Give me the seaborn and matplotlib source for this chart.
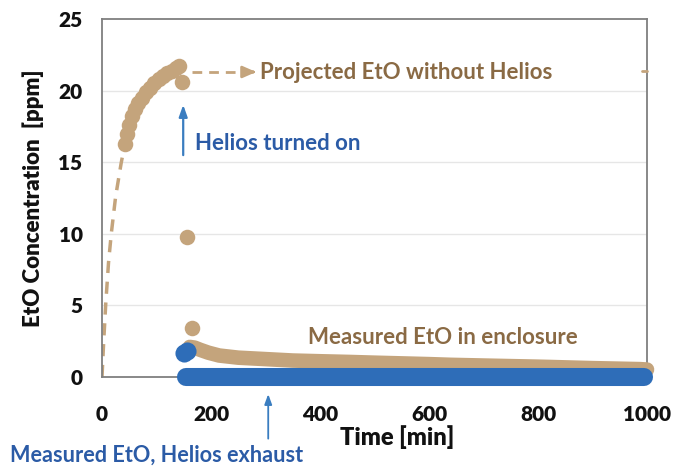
import matplotlib
matplotlib.use("Agg")
import matplotlib.pyplot as plt
import seaborn as sns
import pandas as pd

# ---- data ----
proj_rise_t = [0, 3, 7, 12, 17, 25, 35, 42]
proj_rise_v = [0, 2.4, 5.2, 8.0, 10.0, 12.6, 14.9, 16.3]

before_t = [42, 46, 50, 55, 60, 66, 73, 80, 88, 96, 104, 112, 120, 128, 135, 141, 146]
before_v = [16.3, 17.0, 17.6, 18.2, 18.7, 19.1, 19.5, 19.9, 20.2, 20.5, 20.8, 21.0, 21.2, 21.4, 21.6, 21.7, 20.6]

drop_t = [156, 165]
drop_v = [9.8, 3.4]

encl_t = [161, 170, 180, 195, 215, 250, 300, 350, 400, 455, 500, 600, 640, 700, 800, 822, 900, 987, 1000]
encl_v = [2.1, 2.05, 1.9, 1.7, 1.5, 1.35, 1.25, 1.15, 1.1, 1.05, 1.0, 0.9, 0.85, 0.8, 0.72, 0.7, 0.62, 0.55, 0.52]

exh_spike_t = [150, 156]
exh_spike_v = [1.7, 1.8]

exh_t = [155, 200, 250, 300, 350, 400, 450, 500, 550, 600, 650, 700, 750, 800, 850, 900, 950, 995]
exh_v = [0] * len(exh_t)

proj_arrow_t = [165, 280]
proj_arrow_v = [21.3, 21.3]
proj_end_t = [990, 1000]
proj_end_v = [21.4, 21.4]

x_ticks = [0, 200, 400, 600, 800, 1000]
y_ticks = [0, 5, 10, 15, 20, 25]

TAN = "#C4A47C"
BROWN = "#8A6A44"
BLUE = "#2E6DB8"
BLUE_TXT = "#2B5BA6"
ARROW_BLUE = "#3A7DC0"

sns.set_style("white")
plt.rcParams["font.family"] = ["Lato", "DejaVu Sans"]

fig = plt.figure(figsize=(6.75, 4.66), dpi=100)
ax = fig.add_axes([102 / 675, 89 / 466, 545 / 675, 358 / 466])

for yv in [5, 10, 15, 20]:
    ax.axhline(yv, color="#E6E6E6", lw=1.0, zorder=0)

# projected rise (dashed)
sns.lineplot(x=proj_rise_t, y=proj_rise_v, ax=ax, color=TAN, lw=2.5,
             linestyle=(0, (3.5, 2.5)), sort=False, zorder=2)

# measured before Helios
sns.scatterplot(x=before_t, y=before_v, ax=ax, color=TAN, s=125, linewidth=0, zorder=3)
sns.scatterplot(x=drop_t, y=drop_v, ax=ax, color=TAN, s=125, linewidth=0, zorder=3)

# enclosure band
sns.lineplot(x=encl_t, y=encl_v, ax=ax, color=TAN, lw=10.5, sort=False, zorder=3,
             solid_capstyle="round", clip_on=False)

# exhaust
sns.scatterplot(x=exh_spike_t, y=exh_spike_v, ax=ax, color=BLUE, s=170, linewidth=0, zorder=4)
sns.lineplot(x=exh_t, y=exh_v, ax=ax, color=BLUE, lw=13, sort=False, zorder=4,
             solid_capstyle="round", clip_on=False)

# projected arrow
ax.plot(proj_arrow_t, proj_arrow_v, color=TAN, lw=2, linestyle=(0, (3.5, 2.5)), zorder=3)
ax.annotate("", xy=(288, 21.3), xytext=(270, 21.3),
            arrowprops=dict(arrowstyle="-|>,head_length=0.8,head_width=0.35", color=TAN, lw=2))
ax.plot(proj_end_t, proj_end_v, color=TAN, lw=2, zorder=3, clip_on=False)

FS = 16
ax.text(290, 21.25, "Projected EtO without Helios", color=BROWN, fontsize=FS,
        fontweight="bold", va="center", ha="left")

# Helios turned on
ax.annotate("", xy=(149, 19.2), xytext=(149, 15.3),
            arrowprops=dict(arrowstyle="-|>,head_length=0.7,head_width=0.25",
                            color=ARROW_BLUE, lw=1.6))
ax.text(171, 16.3, "Helios turned on", color=BLUE_TXT, fontsize=FS,
        fontweight="bold", va="center", ha="left")

ax.text(378, 2.75, "Measured EtO in enclosure", color=BROWN, fontsize=FS,
        fontweight="bold", va="center", ha="left")

# exhaust annotation below axes
ax.annotate("", xy=(305, -1.0), xytext=(305, -4.5),
            arrowprops=dict(arrowstyle="-|>,head_length=0.6,head_width=0.22",
                            color=ARROW_BLUE, lw=1.3),
            annotation_clip=False)
fig.text(10 / 675, 1 - 455 / 466, "Measured EtO, Helios exhaust", color=BLUE_TXT,
         fontsize=15.6, fontweight="bold", va="center", ha="left")

ax.set_xlim(0, 1000)
ax.set_ylim(0, 25)
ax.set_xticks(x_ticks)
ax.set_yticks(y_ticks)
ax.set_xticklabels([str(v) for v in x_ticks], fontsize=15, fontweight="heavy", color="#111111")
ax.set_yticklabels([str(v) for v in y_ticks], fontsize=15, fontweight="heavy", color="#111111")
ax.tick_params(axis="x", length=0, pad=20)
ax.tick_params(axis="y", length=0, pad=14)
ax.set_xlabel("Time [min]", fontsize=17, fontweight="heavy", color="#111111")
ax.xaxis.set_label_coords((397 - 102) / 545, -(437 - 377) / 358)
ax.xaxis.label.set_verticalalignment("center")
ax.set_ylabel("EtO Concentration  [ppm]", fontsize=16, fontweight="heavy", color="#111111", labelpad=10)

for sp in ax.spines.values():
    sp.set_color("#7F7F7F")
    sp.set_linewidth(1.3)

fig.savefig("out.png", dpi=100)
